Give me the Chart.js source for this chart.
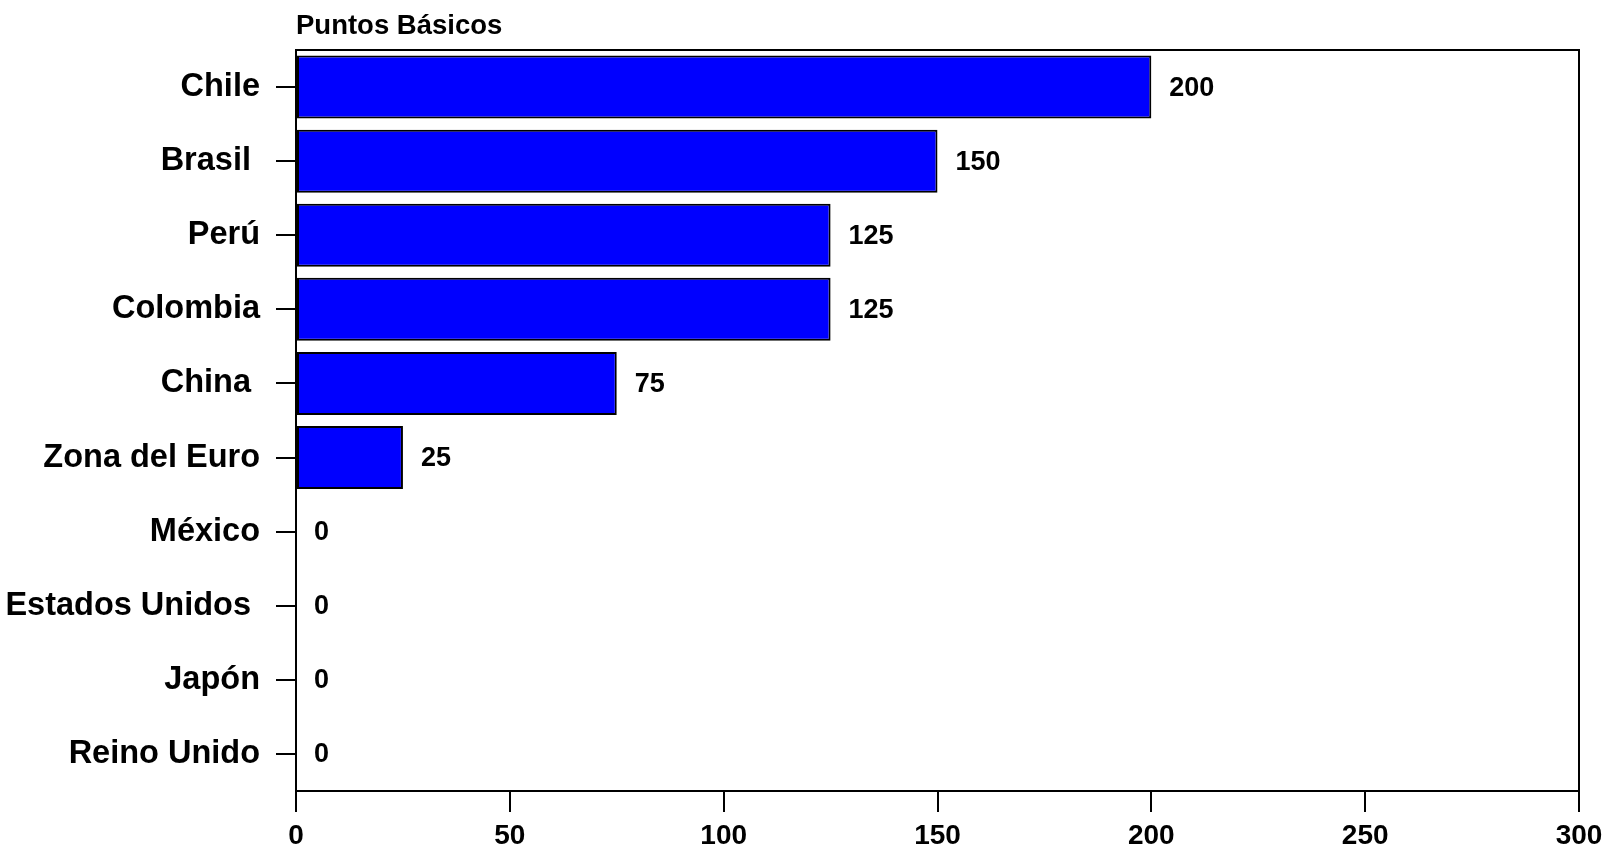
<!DOCTYPE html>
<html>
<head>
<meta charset="utf-8">
<script src="https://cdn.jsdelivr.net/npm/chart.js@4.4.1/dist/chart.umd.min.js"></script>
<style>
    html, body { margin: 0; padding: 0; background: #fff; }
    #wrap { width: 1602px; height: 848px; position: relative; }
</style>
</head>
<body>
<div id="wrap"><canvas id="tasaChart" width="1602" height="848"></canvas></div>
<script>
// Values
const paises = ['Chile', 'Brasil ', 'Perú', 'Colombia', 'China ', 'Zona del Euro', 'México', 'Estados Unidos ', 'Japón', 'Reino Unido'];
const puntosBasicos = [200, 150, 125, 125, 75, 25, 0, 0, 0, 0];
const ticksX = [0, 50, 100, 150, 200, 250, 300];
const tituloEje = 'Puntos Básicos';

const FONT = "'Liberation Sans', Arial, sans-serif";

// Frame around the plot area + small title on top-left
const marcoPlugin = {
    id: 'marco',
    afterDraw(chart) {
        const { ctx, chartArea } = chart;
        ctx.save();
        ctx.strokeStyle = '#000';
        ctx.lineWidth = 2;
        ctx.beginPath();
        ctx.moveTo(chartArea.left, chartArea.top);
        ctx.lineTo(chartArea.right, chartArea.top);
        ctx.lineTo(chartArea.right, chartArea.bottom);
        ctx.stroke();
        ctx.fillStyle = '#000';
        ctx.font = 'bold 27.5px ' + FONT;
        ctx.textAlign = 'left';
        ctx.textBaseline = 'middle';
        ctx.fillText(tituloEje, chartArea.left, chartArea.top - 24);
        ctx.restore();
    }
};

// Value labels to the right of each bar
const etiquetasPlugin = {
    id: 'etiquetas',
    afterDatasetsDraw(chart) {
        const { ctx } = chart;
        const meta = chart.getDatasetMeta(0);
        ctx.save();
        ctx.fillStyle = '#000';
        ctx.font = 'bold 27px ' + FONT;
        ctx.textAlign = 'left';
        ctx.textBaseline = 'middle';
        meta.data.forEach((bar, i) => {
            ctx.fillText(String(puntosBasicos[i]), bar.x + 18, bar.y + 1);
        });
        ctx.restore();
    }
};

const ctx = document.getElementById('tasaChart').getContext('2d');
new Chart(ctx, {
    type: 'bar',
    data: {
        labels: paises,
        datasets: [{
            data: puntosBasicos,
            backgroundColor: '#0000FF',
            borderColor: '#000',
            borderWidth: 2,
            borderSkipped: false,
            barPercentage: 0.85,
            categoryPercentage: 1.0
        }]
    },
    options: {
        indexAxis: 'y',
        responsive: false,
        animation: false,
        layout: { padding: { top: 50, right: 23, left: 0, bottom: 0 } },
        plugins: {
            legend: { display: false },
            tooltip: { enabled: false }
        },
        scales: {
            x: {
                min: 0,
                max: 300,
                afterBuildTicks: (scale) => { scale.ticks = ticksX.map(v => ({ value: v })); },
                afterFit: (scale) => { scale.height = 57; scale.paddingRight = 0; scale.paddingLeft = 0; },
                grid: { drawOnChartArea: false, drawTicks: true, tickLength: 21, color: '#000', lineWidth: 2 },
                border: { display: true, color: '#000', width: 2 },
                ticks: { color: '#000', padding: 7, font: { family: FONT, size: 28, weight: 'bold' }, maxRotation: 0 }
            },
            y: {
                offset: true,
                afterFit: (scale) => { scale.width = 296; scale.paddingTop = 0; scale.paddingBottom = 0; },
                grid: { offset: false, drawOnChartArea: false, drawTicks: true, tickLength: 20, color: '#000', lineWidth: 2 },
                border: { display: true, color: '#000', width: 2 },
                ticks: { color: '#000', padding: 16, font: { family: FONT, size: 32.5, weight: 'bold' }, autoSkip: false }
            }
        }
    },
    plugins: [marcoPlugin, etiquetasPlugin]
});
</script>
</body>
</html>
